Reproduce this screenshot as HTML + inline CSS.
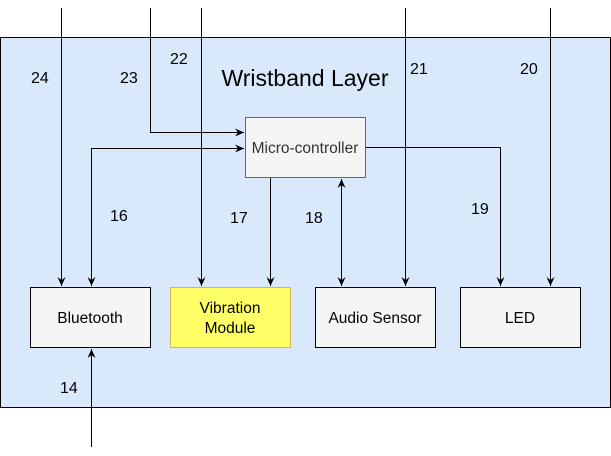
<!DOCTYPE html>
<html><head><meta charset="utf-8"><style>body{margin:0;background:#fff}svg{display:block}</style></head><body>
<svg width="611" height="456" xmlns="http://www.w3.org/2000/svg" font-family="Liberation Sans, sans-serif">
<defs><marker id="a" markerWidth="10" markerHeight="10" refX="9" refY="5" orient="auto-start-reverse" markerUnits="userSpaceOnUse"><path d="M0,1 L9,5 L0,9 L3,5 Z" fill="#000"/></marker></defs>
<rect x="0.5" y="37.5" width="610" height="370" fill="#dae8fc" stroke="#000"/>
<text x="305" y="86" font-size="23" text-anchor="middle">Wristband Layer</text>
<rect x="245.5" y="117.5" width="120" height="60" fill="#f5f5f5" stroke="#666"/>
<text x="305" y="153" font-size="15.5" text-anchor="middle" fill="#333">Micro-controller</text>
<rect x="30.5" y="287.5" width="120" height="60" fill="#f5f5f5" stroke="#000"/>
<text x="90" y="323" font-size="15.5" text-anchor="middle">Bluetooth</text>
<rect x="170.5" y="287.5" width="120" height="60" fill="#ffff66" stroke="#d6b656"/>
<text x="230" y="313" font-size="15.5" text-anchor="middle">Vibration</text>
<text x="230" y="333" font-size="15.5" text-anchor="middle">Module</text>
<rect x="315.5" y="287.5" width="120" height="60" fill="#f5f5f5" stroke="#000"/>
<text x="375" y="323" font-size="15.5" text-anchor="middle">Audio Sensor</text>
<rect x="460.5" y="287.5" width="120" height="60" fill="#f5f5f5" stroke="#000"/>
<text x="520" y="323" font-size="15.5" text-anchor="middle">LED</text>
<g stroke="#000" fill="none" stroke-width="1">
<path d="M61.5,8 V286" marker-end="url(#a)"/>
<path d="M150.5,8 V132.5 H244" marker-end="url(#a)"/>
<path d="M201.5,8 V286" marker-end="url(#a)"/>
<path d="M405.5,8 V286" marker-end="url(#a)"/>
<path d="M550.5,8 V286" marker-end="url(#a)"/>
<path d="M91.5,286 V148.5 H244" marker-end="url(#a)" marker-start="url(#a)"/>
<path d="M270.5,178 V286" marker-end="url(#a)"/>
<path d="M341.5,179 V286" marker-end="url(#a)" marker-start="url(#a)"/>
<path d="M366,147.5 H500.5 V286" marker-end="url(#a)"/>
<path d="M91.5,447 V349" marker-end="url(#a)"/>
</g>
<g font-size="16">
<text x="31" y="83">24</text><text x="120" y="83">23</text><text x="170" y="64">22</text>
<text x="410" y="74">21</text><text x="520" y="74">20</text>
<text x="110" y="221">16</text><text x="230" y="223">17</text><text x="305" y="223">18</text>
<text x="471" y="214">19</text><text x="60" y="393">14</text>
</g>
</svg>
</body></html>
